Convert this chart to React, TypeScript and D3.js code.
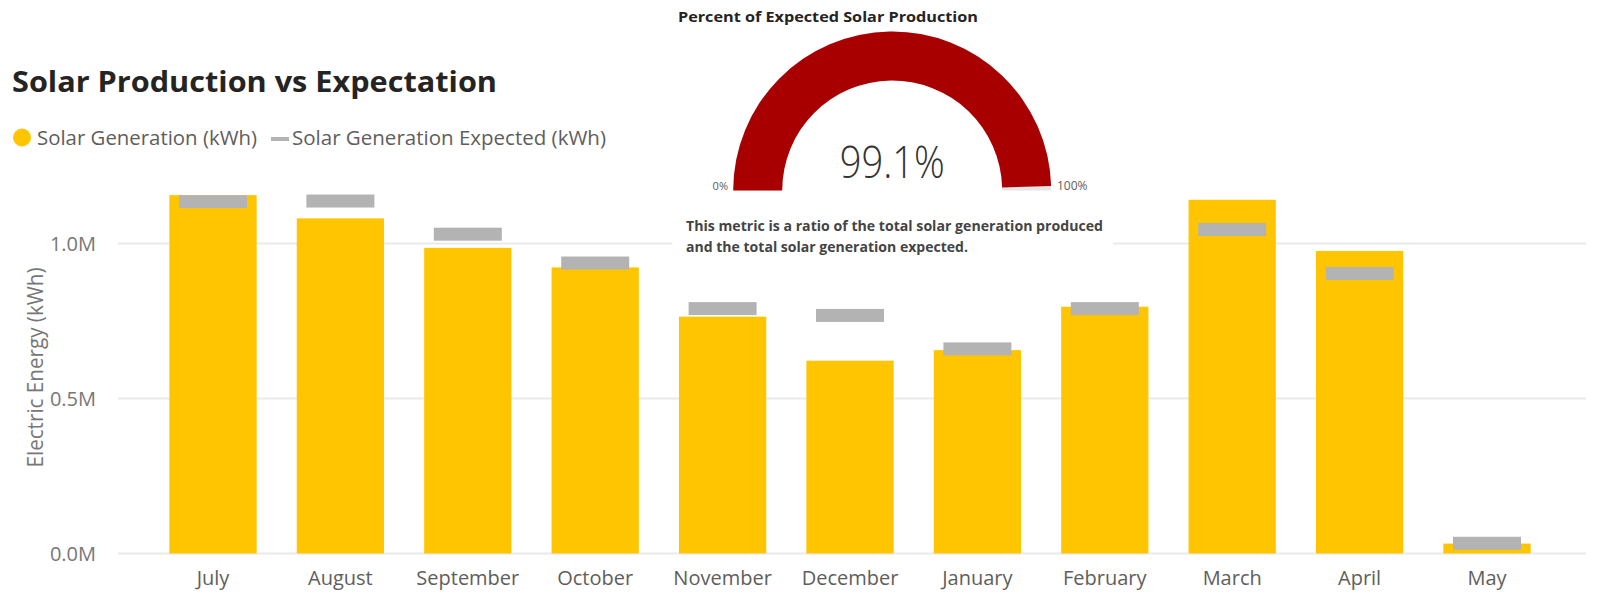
import React from "react";
import * as d3 from "d3";

const months = ["July", "August", "September", "October", "November", "December", "January", "February", "March", "April", "May"];
const generation = [1156000, 1081000, 986000, 923000, 764000, 622000, 656000, 796000, 1141000, 976000, 32000];
const expected = [1135000, 1137000, 1030000, 937000, 790000, 768000, 660000, 790000, 1045000, 903000, 33000];
const yTicks = [0, 500000, 1000000];
const gaugeValue = 0.991;
const gaugeMinLabel = "0%";
const gaugeMaxLabel = "100%";

const W = 1605;
const H = 614;
const FONT = "'Segoe UI', 'Open Sans', 'Noto Sans', sans-serif";
const YELLOW = "#FFC500";
const GRAY = "#B3B3B3";
const RED = "#A80000";

export default function App() {
  const x = d3
    .scaleBand<string>()
    .domain(months)
    .range([149.3, 1550.7])
    .paddingInner(0.315)
    .paddingOuter(0.1575);
  const y = d3.scaleLinear().domain([0, 1200000]).range([553.5, 181.5]);
  const fmt = (v: number) => d3.format(".1f")(v / 1e6) + "M";
  const bw = x.bandwidth();
  const markerW = 68;
  const markerH = 13;

  const gx = 892.2;
  const gy = 190.5;
  const arcBg = d3.arc()({
    innerRadius: 110,
    outerRadius: 159,
    startAngle: -Math.PI / 2,
    endAngle: Math.PI / 2,
  } as any) as string;
  const arcFg = d3.arc()({
    innerRadius: 110,
    outerRadius: 159,
    startAngle: -Math.PI / 2,
    endAngle: -Math.PI / 2 + Math.PI * gaugeValue,
  } as any) as string;

  return (
    <svg
      width={W}
      height={H}
      style={{ position: "absolute", left: 0, top: 0, background: "#fff" }}
      fontFamily={FONT}
    >
      {/* title */}
      <text x={12} y={92} fontSize={29} fontWeight={700} fill="#252423" textLength={485} lengthAdjust="spacingAndGlyphs">
        Solar Production vs Expectation
      </text>
      {/* legend */}
      <circle cx={22} cy={137.5} r={9} fill={YELLOW} />
      <text x={37} y={145} fontSize={20} fill="#605E5C" textLength={220} lengthAdjust="spacingAndGlyphs">
        Solar Generation (kWh)
      </text>
      <line x1={271} x2={289} y1={139} y2={139} stroke={GRAY} strokeWidth={4} />
      <text x={292} y={145} fontSize={20} fill="#605E5C" textLength={314} lengthAdjust="spacingAndGlyphs">
        Solar Generation Expected (kWh)
      </text>

      {/* gridlines */}
      {yTicks.map((t) => (
        <line key={t} x1={118} x2={1586} y1={y(t)} y2={y(t)} stroke="#EAEAEA" strokeWidth={2} />
      ))}
      {/* y tick labels */}
      {yTicks.map((t) => (
        <text key={"l" + t} x={96} y={y(t) + 7} textAnchor="end" fontSize={20} fill="#777">
          {fmt(t)}
        </text>
      ))}
      <text
        transform={`translate(43,367.5) rotate(-90)`}
        textAnchor="middle"
        fontSize={21}
        fill="#777"
        textLength={200}
        lengthAdjust="spacingAndGlyphs"
      >
        Electric Energy (kWh)
      </text>

      {/* bars */}
      {months.map((m, i) => (
        <rect
          key={"b" + m}
          x={x(m)!}
          y={y(generation[i])}
          width={bw}
          height={y(0) - y(generation[i])}
          fill={YELLOW}
        />
      ))}
      {/* expected markers */}
      {months.map((m, i) => (
        <rect
          key={"e" + m}
          x={x(m)! + bw / 2 - markerW / 2}
          y={y(expected[i]) - markerH / 2}
          width={markerW}
          height={markerH}
          fill={GRAY}
        />
      ))}
      {/* x labels */}
      {months.map((m) => (
        <text key={"x" + m} x={x(m)! + bw / 2} y={585} textAnchor="middle" fontSize={20} fill="#605E5C">
          {m}
        </text>
      ))}

      {/* gauge visual */}
      <rect x={672} y={0} width={441} height={262} fill="#fff" />
      <text x={678} y={22} fontSize={15} fontWeight={700} fill="#252423" textLength={300} lengthAdjust="spacingAndGlyphs">
        Percent of Expected Solar Production
      </text>
      <g transform={`translate(${gx},${gy})`}>
        <path d={arcBg} fill="#E6E6E6" />
        <path d={arcFg} fill={RED} />
      </g>
      <text x={gx} y={178} textAnchor="middle" fontSize={44} fontWeight={300} fill="#333" textLength={105} lengthAdjust="spacingAndGlyphs">
        {d3.format(".1%")(gaugeValue)}
      </text>
      <text x={728} y={190} textAnchor="end" fontSize={11} fill="#605E5C">
        {gaugeMinLabel}
      </text>
      <text x={1057} y={190} fontSize={12} fill="#605E5C">
        {gaugeMaxLabel}
      </text>
      <text fontSize={14} fontWeight={700} fill="#444">
        <tspan x={686} y={231} textLength={417} lengthAdjust="spacingAndGlyphs">This metric is a ratio of the total solar generation produced</tspan>
        <tspan x={686} y={252} textLength={282} lengthAdjust="spacingAndGlyphs">and the total solar generation expected.</tspan>
      </text>
    </svg>
  );
}
